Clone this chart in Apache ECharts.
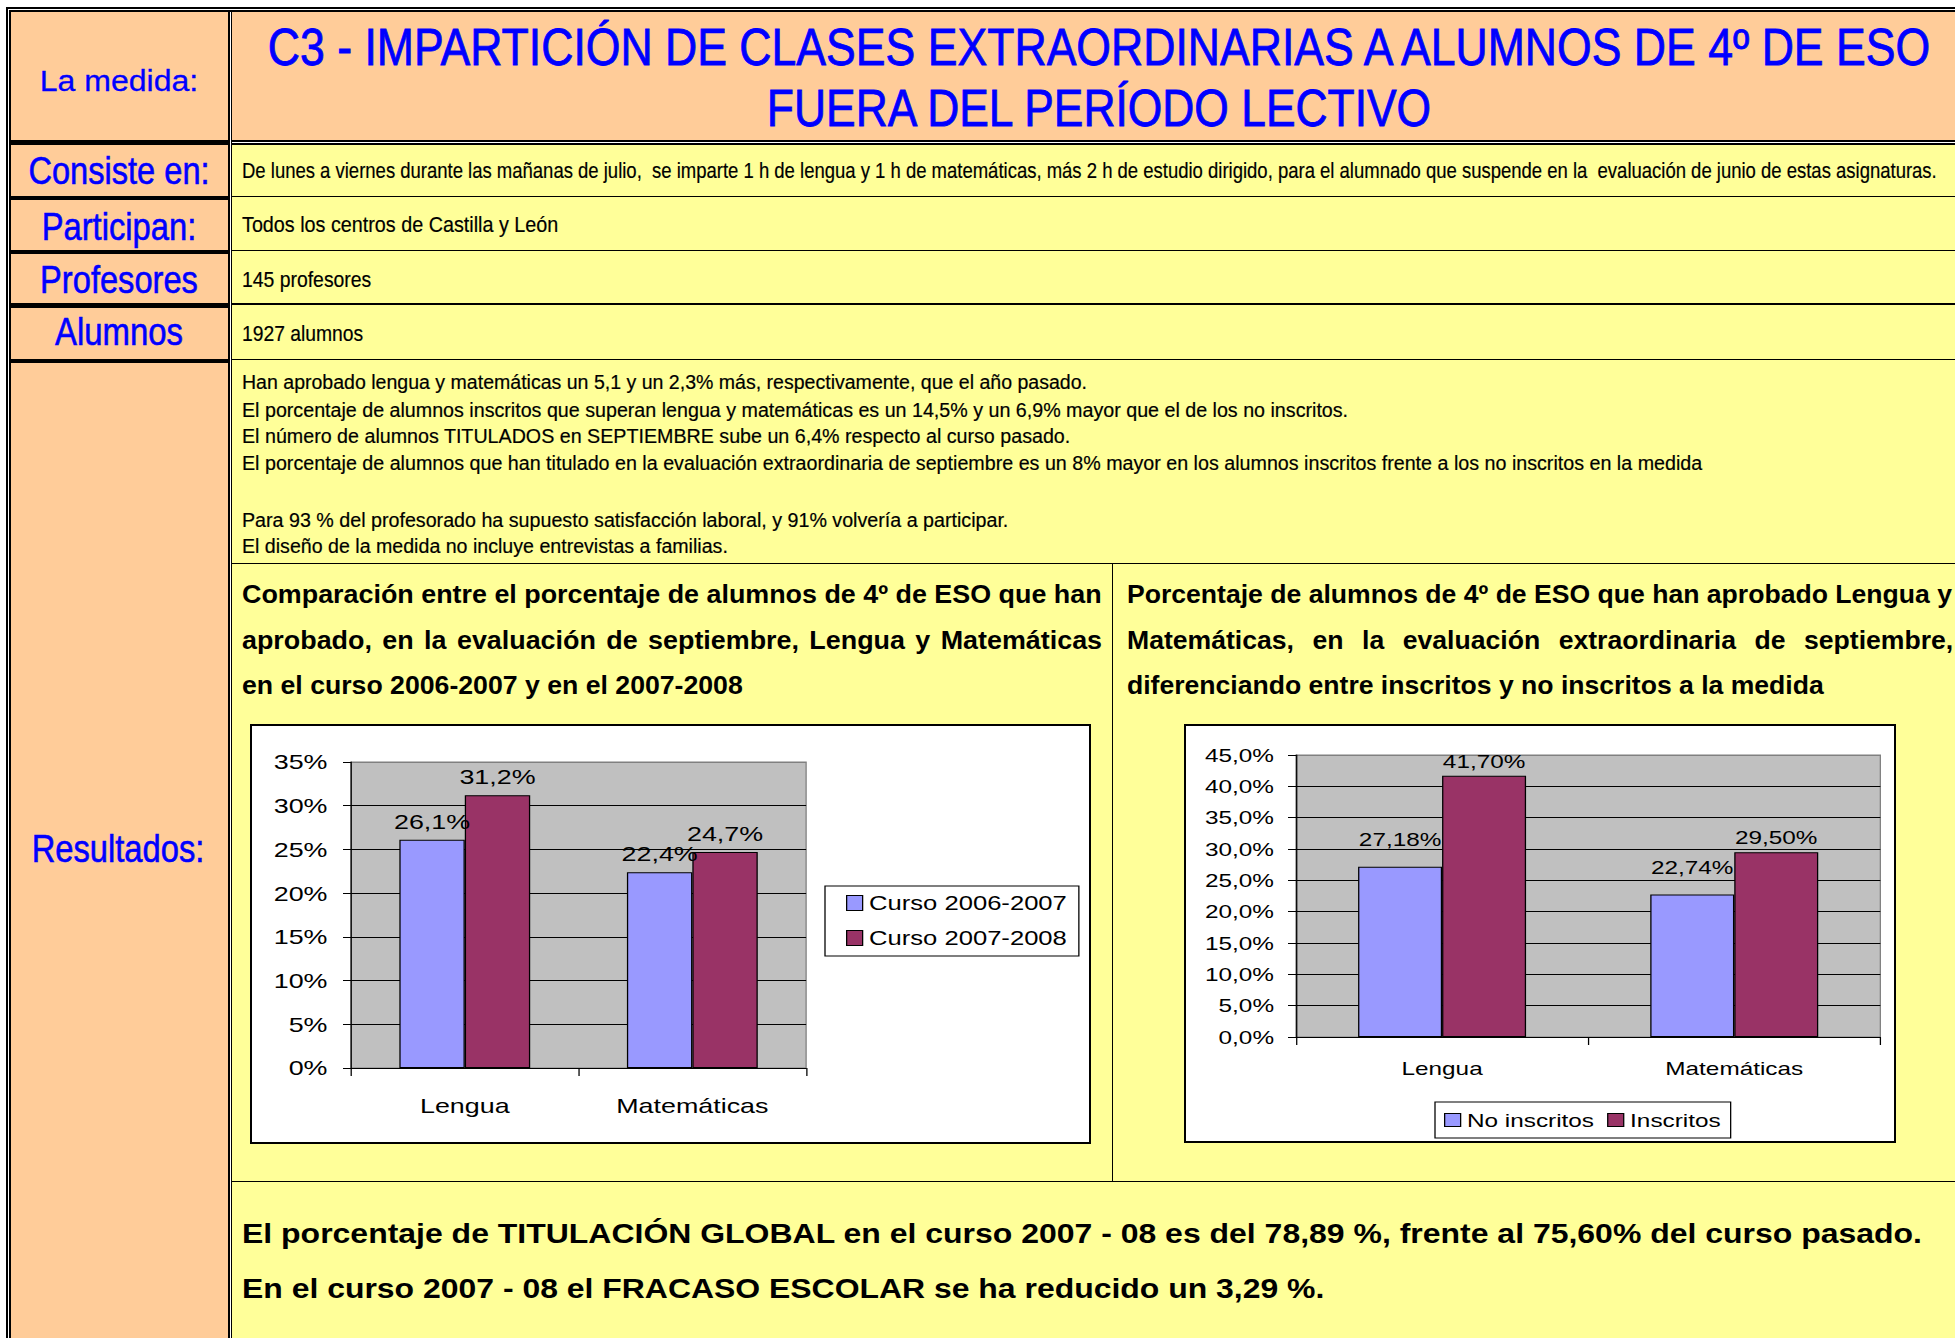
<!DOCTYPE html>
<html>
<head>
<meta charset="utf-8">
<script src="https://cdn.jsdelivr.net/npm/echarts@6.0.0/dist/echarts.min.js"></script>
<style>
  html, body { margin: 0; padding: 0; background: #fff; }
  body { position: relative; width: 1955px; height: 1338px; overflow: hidden; }
  .r { position: absolute; }
  .k { background: #000; }
  .w { background: #fff; }
  .p { background: #ffcc99; }
  .y { background: #ffff99; }
  .t { position: absolute; white-space: pre; line-height: 1; margin: 0; }
  .lbl { font: 38px "Liberation Sans", Arial, sans-serif; color: #0000ff; -webkit-text-stroke: 0.6px #0000ff; }
  .lblw { font: 30px "Liberation Sans", Arial, sans-serif; color: #0000ff; -webkit-text-stroke: 0.3px #0000ff; }
  .ttl { font: 51px "Liberation Sans", Arial, sans-serif; color: #0000ff; -webkit-text-stroke: 0.8px #0000ff; }
  .txt { font: 22px "Liberation Sans", Arial, sans-serif; color: #000; -webkit-text-stroke: 0.2px #000; }
  .res { font: 20px "Liberation Sans", Arial, sans-serif; color: #000; -webkit-text-stroke: 0.2px #000; }
  .hd { font: bold 25px "Liberation Sans", Arial, sans-serif; color: #000; }
  .big { font: bold 27px "Liberation Sans", Arial, sans-serif; color: #000; }
  .box { position: absolute; background: #fff; border: 2px solid #000; box-sizing: border-box; }
  .chart { position: absolute; left: 0; top: 0; transform-origin: 0 0; }
</style>
</head>
<body>
<div class="box" id="box1" style="left:250px;top:724px;width:841px;height:420px"><div class="chart" id="chart1"></div></div>
<div class="box" id="box2" style="left:1184px;top:724px;width:712px;height:419px"><div class="chart" id="chart2"></div></div>
<script>
// chart data
const categories = ['Lengua', 'Matemáticas'];
const curso0607 = [26.1, 22.4];
const curso0708 = [31.2, 24.7];
const noInscritos = [27.18, 22.74];
const inscritos = [41.7, 29.5];
const names1 = ['Curso 2006-2007', 'Curso 2007-2008'];
const names2 = ['No inscritos', 'Inscritos'];
const axis1 = [0, 35, 5];
const axis2 = [0, 45, 5];

const FONT = '"Liberation Sans", Arial, sans-serif';
const SX = 1.28; // the charts in the sheet are stretched sideways
const W = 1965;

// table background: black base, then cells
const rects = [
  ['k', 6, 7, W - 6, 1340],
  ['w', 8, 9, W - 8, 1],
  ['w', 8, 9, 1, 1340],
  ['w', 230, 12, 1, 1340],
  ['w', 232, 142, W - 232, 1],
  ['p', 11, 12, 217, 128],
  ['p', 11, 145, 217, 51],
  ['p', 11, 200, 217, 50],
  ['p', 11, 254, 217, 49],
  ['p', 11, 308, 217, 51],
  ['p', 11, 363, 217, 1000],
  ['p', 232, 12, W - 232, 128],
  ['y', 232, 145, W - 232, 51],
  ['y', 232, 197, W - 232, 53],
  ['y', 232, 251, W - 232, 52],
  ['y', 232, 305, W - 232, 54],
  ['y', 232, 360, W - 232, 203],
  ['y', 232, 564, 880, 617],
  ['y', 1113, 564, W - 1113, 617],
  ['y', 232, 1182, W - 232, 200],
];

// text, class, x, y (centre line), target width, align / mode
const texts = [
  ['La medida:', 'lblw', 119, 81, 158, 'c'],
  ['Consiste en:', 'lbl', 119, 170.5, 181, 'c'],
  ['Participan:', 'lbl', 119, 226.5, 155, 'c'],
  ['Profesores', 'lbl', 119, 280, 158, 'c'],
  ['Alumnos', 'lbl', 119, 332, 128, 'c'],
  ['Resultados:', 'lbl', 118, 849, 173, 'c'],
  ['C3 - IMPARTICIÓN DE CLASES EXTRAORDINARIAS A ALUMNOS DE 4º DE ESO', 'ttl', 1099, 47, 1662, 'c'],
  ['FUERA DEL PERÍODO LECTIVO', 'ttl', 1099, 108, 664, 'c'],
  ['De lunes a viernes durante las mañanas de julio,  se imparte 1 h de lengua y 1 h de matemáticas, más 2 h de estudio dirigido, para el alumnado que suspende en la  evaluación de junio de estas asignaturas.', 'txt', 242, 171, 1695],
  ['Todos los centros de Castilla y León', 'txt', 242, 224.5, 316],
  ['145 profesores', 'txt', 242, 280, 129.5],
  ['1927 alumnos', 'txt', 242, 334, 121],
  ['Han aprobado lengua y matemáticas un 5,1 y un 2,3% más, respectivamente, que el año pasado.', 'res', 242, 382, 845],
  ['El porcentaje de alumnos inscritos que superan lengua y matemáticas es un 14,5% y un 6,9% mayor que el de los no inscritos.', 'res', 242, 409.7, 1106],
  ['El número de alumnos TITULADOS en SEPTIEMBRE sube un 6,4% respecto al curso pasado.', 'res', 242, 436.3, 828],
  ['El porcentaje de alumnos que han titulado en la evaluación extraordinaria de septiembre es un 8% mayor en los alumnos inscritos frente a los no inscritos en la medida', 'res', 242, 463, 1460],
  ['Para 93 % del profesorado ha supuesto satisfacción laboral, y 91% volvería a participar.', 'res', 242, 519.7, 766],
  ['El diseño de la medida no incluye entrevistas a familias.', 'res', 242, 546.3, 486],
  ['Comparación entre el porcentaje de alumnos de 4º de ESO que han', 'hd', 242, 594, 860],
  ['aprobado, en la evaluación de septiembre, Lengua y Matemáticas', 'hd', 242, 639.5, 860, 'j'],
  ['en el curso 2006-2007 y en el 2007-2008', 'hd', 242, 685, 501],
  ['Porcentaje de alumnos de 4º de ESO que han aprobado Lengua y', 'hd', 1127, 594, 825],
  ['Matemáticas, en la evaluación extraordinaria de septiembre,', 'hd', 1127, 639.5, 826, 'j'],
  ['diferenciando entre inscritos y no inscritos a la medida', 'hd', 1127, 685, 697],
  ['El porcentaje de TITULACIÓN GLOBAL en el curso 2007 - 08 es del 78,89 %, frente al 75,60% del curso pasado.', 'big', 242, 1234, 1680],
  ['En el curso 2007 - 08 el FRACASO ESCOLAR se ha reducido un 3,29 %.', 'big', 242, 1289, 1082],
];

const firstBox = document.getElementById('box1');
rects.forEach(([cls, x, y, w, h]) => {
  const el = document.createElement('div');
  el.className = 'r ' + cls;
  el.style.cssText = `left:${x}px;top:${y}px;width:${w}px;height:${h}px`;
  document.body.insertBefore(el, firstBox);
});

const textEls = texts.map((item) => {
  const el = document.createElement('div');
  el.className = 't ' + item[1];
  el.textContent = item[0];
  el.style.left = item[2] + 'px';
  el.style.top = item[3] + 'px';
  document.body.appendChild(el);
  return el;
});

function fitTexts() {
  let lastScale = 1;
  texts.forEach((item, i) => {
    const el = textEls[i];
    const [text, , , , width, mode] = item;
    el.style.wordSpacing = '0px';
    el.style.transform = 'none';
    const natural = el.offsetWidth;
    let s = width / natural;
    if (mode === 'j') {
      s = lastScale;
      const spaces = (text.match(/ /g) || []).length;
      el.style.wordSpacing = ((width / s - natural) / spaces) + 'px';
    }
    lastScale = s;
    if (mode === 'c') {
      el.style.transformOrigin = '50% 50%';
      el.style.transform = `translate(-50%, -50%) scaleX(${s})`;
    } else {
      el.style.transformOrigin = '0 50%';
      el.style.transform = `translateY(-50%) scaleX(${s})`;
    }
  });
}
fitTexts();
if (document.fonts && document.fonts.ready) document.fonts.ready.then(fitTexts);

function pct(decimals) {
  return (v) => v.toFixed(decimals).replace('.', ',') + '%';
}

function gridColors(axis) {
  const n = Math.round((axis[1] - axis[0]) / axis[2]) + 1;
  return Array.from({ length: n }, (_, i) => (i === n - 1 ? '#808080' : '#000'));
}

function barSeries(name, data, color, fontSize, distance, decimals) {
  return {
    name,
    type: 'bar',
    data,
    barGap: '0%',
    barCategoryGap: '42.5%',
    itemStyle: { color, borderColor: '#000', borderWidth: 1 },
    label: {
      show: true,
      position: 'top',
      distance,
      fontFamily: FONT,
      fontSize,
      lineHeight: fontSize,
      color: '#000',
      formatter: (p) => pct(decimals)(p.value),
    },
  };
}

function makeChart(id, boxId, opts) {
  const box = document.getElementById(boxId);
  const el = document.getElementById(id);
  const innerW = box.clientWidth;
  const innerH = box.clientHeight;
  el.style.width = (innerW / SX) + 'px';
  el.style.height = innerH + 'px';
  el.style.transform = `scaleX(${SX})`;
  const chart = echarts.init(el, null, { renderer: 'svg' });
  const fs = opts.fontSize;
  chart.setOption({
    animation: false,
    textStyle: { fontFamily: FONT, color: '#000' },
    grid: {
      left: opts.grid[0] / SX,
      right: (innerW - opts.grid[0] - opts.grid[1]) / SX,
      top: opts.grid[2],
      bottom: innerH - opts.grid[3],
      show: true,
      backgroundColor: '#c0c0c0',
      borderColor: '#808080',
      borderWidth: 1,
      outerBoundsMode: 'none',
    },
    legend: Object.assign({
      icon: 'rect',
      backgroundColor: '#fff',
      borderColor: '#000',
      borderWidth: 1,
      borderRadius: 0,
      itemStyle: { borderColor: '#000', borderWidth: 1 },
      textStyle: { fontFamily: FONT, fontSize: opts.legendFont, lineHeight: 22, color: '#000' },
    }, opts.legend),
    xAxis: {
      type: 'category',
      data: categories,
      axisLine: { show: true, lineStyle: { color: '#000', width: 1 } },
      axisTick: { show: true, length: 8, lineStyle: { color: '#000' } },
      axisLabel: { fontFamily: FONT, fontSize: fs, color: '#000', margin: opts.xMargin },
      splitLine: { show: false },
    },
    yAxis: {
      type: 'value',
      min: opts.axis[0],
      max: opts.axis[1],
      interval: opts.axis[2],
      axisLine: { show: true, lineStyle: { color: '#000', width: 1 } },
      axisTick: { show: true, length: 8 / SX, lineStyle: { color: '#000' } },
      axisLabel: { fontFamily: FONT, fontSize: fs, color: '#000', margin: opts.yMargin / SX, formatter: opts.yFormat },
      splitLine: { show: true, lineStyle: { color: gridColors(opts.axis), width: 1 } },
    },
    series: opts.series,
  });
  return chart;
}

// chart 1: plot area x 351-806, y 762-1068 (page px)
makeChart('chart1', 'box1', {
  fontSize: 21,
  legendFont: 20,
  grid: [351 - 252, 806 - 351, 762 - 726, 1068 - 726],
  axis: axis1,
  xMargin: 27,
  yMargin: 23.5,
  yFormat: (v) => v + '%',
  legend: {
    orient: 'vertical',
    left: (825 - 252) / SX,
    top: 886 - 726,
    padding: [6, 12 / SX, 7, 21 / SX],
    itemGap: 13,
    itemWidth: 16 / SX,
    itemHeight: 15,
  },
  series: [
    barSeries(names1[0], curso0607, '#9999ff', 21, 8, 1),
    barSeries(names1[1], curso0708, '#993366', 21, 8, 1),
  ],
});

// chart 2: plot area x 1296-1880, y 755-1037 (page px)
makeChart('chart2', 'box2', {
  fontSize: 19,
  legendFont: 19,
  grid: [1296 - 1186, 1880.5 - 1296, 755 - 726, 1037 - 726],
  axis: axis2,
  xMargin: 22,
  yMargin: 22,
  yFormat: pct(1),
  legend: {
    orient: 'horizontal',
    left: (1435 - 1186) / SX,
    top: 1102 - 726,
    padding: [7, 10 / SX, 7, 9 / SX],
    itemGap: 13 / SX,
    itemWidth: 16 / SX,
    itemHeight: 13,
  },
  series: [
    barSeries(names2[0], noInscritos, '#9999ff', 19, 18, 2),
    barSeries(names2[1], inscritos, '#993366', 19, 5, 2),
  ],
});
</script>
</body>
</html>
